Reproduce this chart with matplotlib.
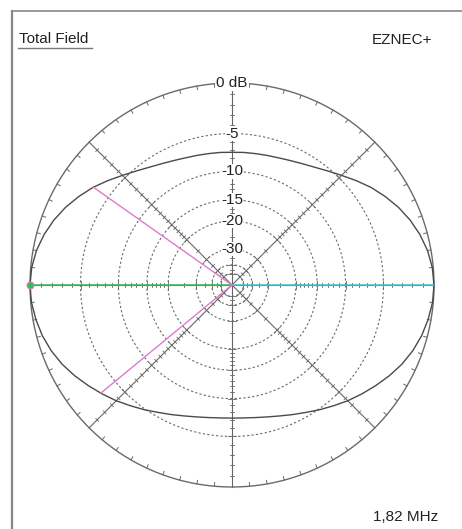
import numpy as np
import matplotlib.pyplot as plt
from matplotlib.lines import Line2D

plt.rcParams['font.family'] = ['Liberation Sans', 'DejaVu Sans']

# Total field pattern, dB relative to max, by angle (deg, CCW from +x)
upper_ang = [0, 5, 10, 15, 20, 25, 30, 35, 40, 45, 50, 55, 60, 65, 70, 75, 80, 85, 90]
upper_db = [0.0, -0.08, -0.3, -0.65, -1.1, -1.65, -2.3, -3.0, -3.8, -4.6, -5.3,
            -5.9, -6.35, -6.7, -6.95, -7.1, -7.2, -7.25, -7.3]
lower_db = [0.0, -0.06, -0.25, -0.5, -0.85, -1.3, -1.85, -2.45, -3.05, -3.65, -4.3,
            -4.9, -5.5, -6.0, -6.45, -6.8, -7.05, -7.2, -7.25]

ring_db = [-5, -10, -15, -20, -30, -40, -50]
ring_labels = ['-5', '-10', '-15', '-20', '-30']
tick_db = list(range(-1, -21, -1)) + [-25, -30, -35, -40, -45, -50]

max_dir = 180.0                      # direction of maximum gain
bw_dirs = [144.8, 219.5]             # -3 dB beamwidth points
freq_text = '1,82 MHz'


def rad(db):
    # EZNEC style log-ish radial scale
    return 10 ** (np.asarray(db, dtype=float) / 40.0)


def xy(ang, db):
    a = np.radians(ang)
    r = rad(db)
    return r * np.cos(a), r * np.sin(a)


# build full 360 deg pattern from the quarter tables
ua = np.array(upper_ang, dtype=float)
ud = np.array(upper_db)
ld = np.array(lower_db)
angs = np.concatenate([ua, 180 - ua[::-1][1:], 180 + ua[1:], 360 - ua[::-1][1:]])
dbs = np.concatenate([ud, ud[::-1][1:], ld[1:], ld[::-1][1:]])

W, H = 462, 529
fig = plt.figure(figsize=(W / 100, H / 100), dpi=100)
cx, cy, R = 232, 285, 202
lim = 1.06
ax = fig.add_axes([(cx - lim * R) / W, (H - cy - lim * R) / H, 2 * lim * R / W, 2 * lim * R / H])
ax.set_xlim(-lim, lim)
ax.set_ylim(-lim, lim)
ax.axis('off')

grid_c = '#666666'
fs = 11
t = np.linspace(0, 2 * np.pi, 721)

# outer 0 dB circle with 5 deg ticks
ax.plot(np.cos(t), np.sin(t), color='#6a6a6a', lw=1.0, zorder=2)
for a in range(0, 360, 5):
    if a % 45 == 0:
        continue
    c, s = np.cos(np.radians(a)), np.sin(np.radians(a))
    ax.plot([c, 0.982 * c], [s, 0.982 * s], color='#6a6a6a', lw=0.7, zorder=2)

# dotted dB rings
for d in ring_db:
    r = rad(d)
    ax.plot(r * np.cos(t), r * np.sin(t), color='#6a6a6a', lw=0.8,
            linestyle=(0, (2, 2)), zorder=1)

# radial axes with dB ticks
for a in range(0, 360, 45):
    c, s = np.cos(np.radians(a)), np.sin(np.radians(a))
    ax.plot([0, c], [0, s], color=grid_c, lw=0.8, zorder=2)
    for d in tick_db:
        r = rad(d)
        h = 0.02 if d in ring_db else 0.01
        ax.plot([r * c - h * s, r * c + h * s], [r * s + h * c, r * s - h * c],
                color=grid_c, lw=0.6, zorder=2)

# ring labels up the vertical axis
for d, lab in zip(ring_db, ring_labels):
    ax.text(0, rad(d), lab, ha='center', va='center', fontsize=fs, color='#222222',
            bbox=dict(boxstyle='square,pad=0.02', fc='white', ec='none'), zorder=4)
ax.text(0, 1, '0 dB', ha='center', va='center', fontsize=fs, color='#222222',
        bbox=dict(boxstyle='square,pad=0.08', fc='white', ec='none'), zorder=4)

# pattern
px, py = xy(angs, dbs)
ax.plot(px, py, color='#4a4a4a', lw=1.0, zorder=3)

# max gain and beamwidth lines
mx, my = xy(max_dir, 0.0)
ax.plot([0, mx], [0, my], color='#33bb55', lw=1.1, zorder=3)
ox, oy = xy(max_dir - 180, 0.0)
ax.plot([0, ox], [0, oy], color='#33c8d8', lw=1.1, zorder=3)
for b in bw_dirs:
    bx, by = xy(b, -3.0)
    ax.plot([0, bx], [0, by], color='#e07ac8', lw=1.0, zorder=3)
ax.plot([mx], [my], marker='o', ms=5, mfc='#33bb55', mec='#e07ac8', mew=0.8, zorder=5)

# frame and headings
fig.add_artist(Line2D([12 / W, 1], [1 - 11 / H, 1 - 11 / H], transform=fig.transFigure,
                      color='#888888', lw=1.2))
fig.add_artist(Line2D([12 / W, 12 / W], [0, 1 - 11 / H], transform=fig.transFigure,
                      color='#888888', lw=1.6))
fig.add_artist(Line2D([18 / W, 92 / W], [1 - 48 / H, 1 - 48 / H], transform=fig.transFigure,
                      color='#777777', lw=1.0))
fig.text(19 / W, 1 - 39 / H, 'Total Field', ha='left', va='center', fontsize=fs, color='#222222')
fig.text(432 / W, 1 - 40 / H, 'EZNEC+', ha='right', va='center', fontsize=fs, color='#222222')
fig.text(438 / W, 1 - 517 / H, freq_text, ha='right', va='center', fontsize=fs, color='#222222')

fig.savefig('out.png', dpi=100, facecolor='white')
